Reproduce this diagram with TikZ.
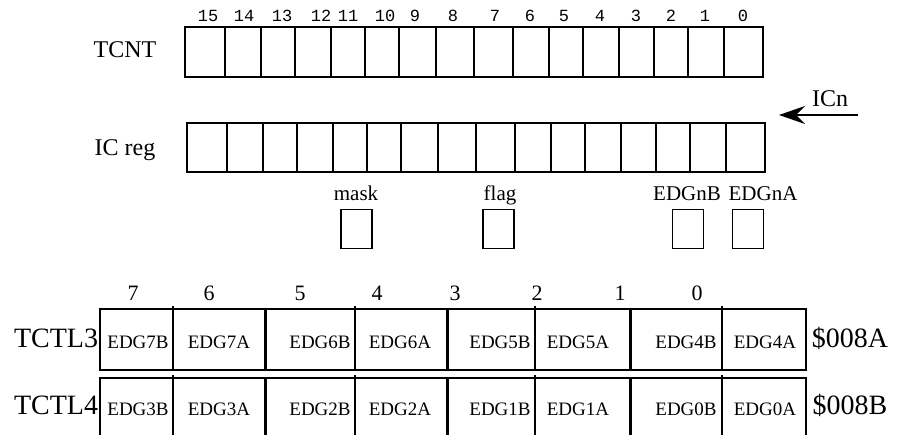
\documentclass[tikz,border=0pt]{standalone}
\usepackage{fontspec}
\setmainfont{Liberation Serif}
\newfontfamily\bitfont{Liberation Mono}
\usetikzlibrary{arrows.meta}
\tikzset{
	regbox/.style={line width=1.8pt},
	rowline/.style={line width=1.5pt},
	thickdiv/.style={line width=3pt},
	thindiv/.style={line width=1.3pt},
	bitno/.style={anchor=base,inner sep=0pt,font=\bitfont\fontsize{17}{17}\selectfont},
	regname/.style={anchor=base,inner sep=0pt,font=\fontsize{24}{24}\selectfont},
	ctlname/.style={anchor=base,inner sep=0pt,font=\fontsize{28}{28}\selectfont},
	ctlbit/.style={anchor=base,inner sep=0pt,font=\fontsize{22}{22}\selectfont},
	fieldname/.style={anchor=base,inner sep=0pt,font=\fontsize{19}{19}\selectfont},
	flagname/.style={anchor=base,inner sep=0pt,font=\fontsize{21}{21}\selectfont},
	flagbox/.style={draw,line width=1.5pt,minimum width=31pt,minimum height=39pt,inner sep=0pt}
}

\begin{document}
\begin{tikzpicture}[x=1pt,y=-1pt]
		\useasboundingbox (0,0) rectangle (901,435);
		% TCNT and IC reg
		\node[regname] (tcnt) at (125,58) {TCNT};
		\node[regname] (icreg) at (125,156) {IC reg};
		\draw[regbox] (185,27) rectangle (763,77);
		\draw[regbox] (187,123) rectangle (765,172);
		\foreach \x in {225,261,295,331,365,399,436,474,513,549,583,619,654,688,724} {
			\draw[regbox] (\x,27) -- (\x,77);
			\draw[regbox] (\x+2,123) -- (\x+2,172);
		}
		\foreach \x/\b in {208/15,244/14,282/13,321/12,348/11,385/10,415/9,453/8,495/7,530/6,564/5,600/4,636/3,671/2,705/1,743/0}
			\node[bitno] (bit\b) at (\x,22) {\b};
		% capture input
		\coordinate (icin) at (858,115);
		\coordinate (ictip) at (779,115);
		\draw[line width=1.5pt,-{Stealth[length=26pt,width=18pt,inset=9pt]}] (icin) -- (ictip);
		\node[regname] (icn) at (830,107) {ICn};
		% single bits
		\node[flagbox] (maskbox) at (356.5,229) {};
		\node[flagbox] (flagbox) at (498.5,229) {};
		\node[flagbox] (edgnbbox) at (688,229) {};
		\node[flagbox] (edgnabox) at (748,229) {};
		\node[flagname] (mask) at (356,201) {mask};
		\node[flagname] (flag) at (500,201) {flag};
		\node[flagname] (edgnb) at (687,201) {EDGnB};
		\node[flagname] (edgna) at (763,201) {EDGnA};
		% TCTL3 and TCTL4
		\draw[rowline] (100,309) rectangle (806,370);
		\draw[rowline] (100,436) -- (100,378) -- (806,378) -- (806,436);
		\foreach \x in {173,355,535,722}
			\draw[thindiv] (\x,306) -- (\x,370) (\x,375) -- (\x,436);
		\foreach \x in {265,447,630}
			\draw[thickdiv] (\x,309) -- (\x,370) (\x,378) -- (\x,436);
		\foreach \x/\b in {133/7,209/6,300/5,377/4,455/3,537/2,620/1,697/0}
			\node[ctlbit] (ctlbit\b) at (\x,301) {\b};
		\node[ctlname] (tctl3) at (56,347) {TCTL3};
		\node[ctlname] (tctl4) at (56,414) {TCTL4};
		\node[ctlname] (addr3) at (850,347) {\$008A};
		\node[ctlname] (addr4) at (850,414) {\$008B};
		\foreach \x/\n in {138/7B,219/7A,320/6B,400/6A,500/5B,578/5A,686/4B,765/4A}
			\node[fieldname] (edg\n) at (\x,348) {EDG\n};
		\foreach \x/\n in {138/3B,219/3A,320/2B,400/2A,500/1B,578/1A,686/0B,765/0A}
			\node[fieldname] (edg\n) at (\x,415) {EDG\n};
	\end{tikzpicture}
\end{document}
